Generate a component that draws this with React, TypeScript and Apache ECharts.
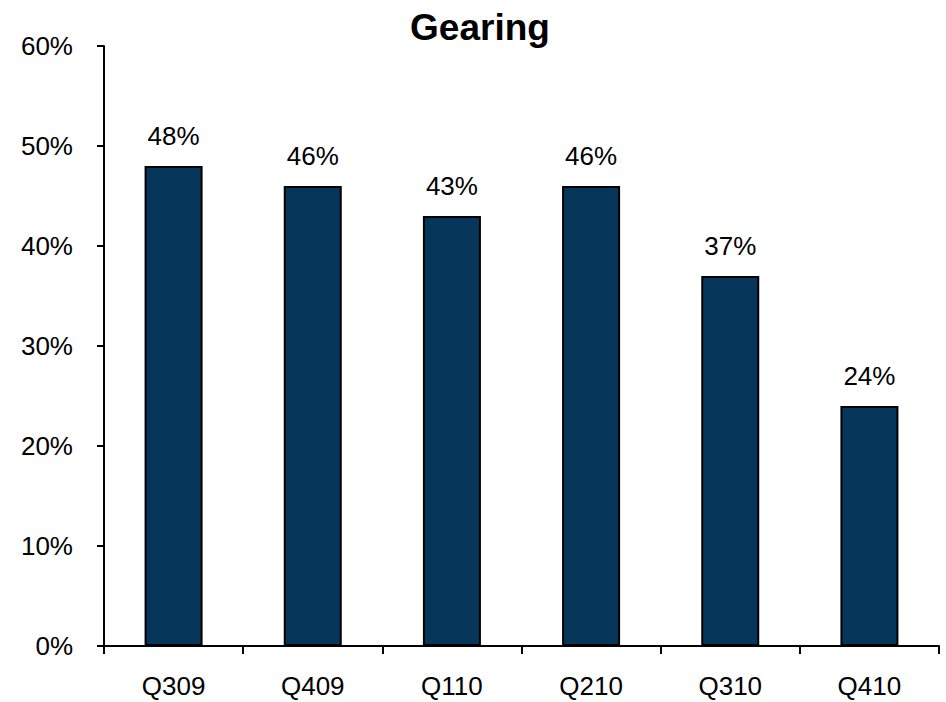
import React, { useEffect, useRef } from "react";
import * as echarts from "echarts";

const categories = ["Q309", "Q409", "Q110", "Q210", "Q310", "Q410"];
const gearing = [48, 46, 43, 46, 37, 24];
const yTicks = { min: 0, max: 60, interval: 10 };

const FONT = "'Liberation Sans', Arial, sans-serif";

export default function App() {
  const ref = useRef<HTMLDivElement>(null);
  useEffect(() => {
    if (!ref.current) return;
    const chart = echarts.init(ref.current, undefined, { renderer: "svg" });
    chart.setOption({
      animation: false,
      backgroundColor: "#ffffff",
      title: {
        text: "Gearing",
        left: 475,
        textAlign: "center",
        top: 4,
        textStyle: { fontFamily: FONT, fontSize: 37, fontWeight: "bold", color: "#000" },
      },
      grid: { left: 104, right: 7, top: 46, bottom: 56, containLabel: false },
      xAxis: {
        type: "category",
        data: categories,
        axisLine: { lineStyle: { color: "#000", width: 2 } },
        axisTick: { show: true, alignWithLabel: false, length: 8, lineStyle: { color: "#000", width: 2 } },
        axisLabel: { margin: 27, fontFamily: FONT, fontSize: 26, color: "#000" },
        splitLine: { show: false },
      },
      yAxis: {
        type: "value",
        min: yTicks.min,
        max: yTicks.max,
        interval: yTicks.interval,
        axisLine: { show: true, lineStyle: { color: "#000", width: 2 } },
        axisTick: { show: true, length: 7, lineStyle: { color: "#000", width: 2 } },
        axisLabel: { formatter: "{value}%", margin: 31, fontFamily: FONT, fontSize: 26, color: "#000" },
        splitLine: { show: false },
      },
      series: [
        {
          type: "bar",
          data: gearing,
          barWidth: 58,
          itemStyle: { color: "#063659", borderColor: "#000", borderWidth: 2 },
          label: {
            show: true,
            position: "top",
            distance: 17,
            formatter: "{c}%",
            fontFamily: FONT,
            fontSize: 26,
            color: "#000",
          },
        },
      ],
    });
    return () => chart.dispose();
  }, []);
  return <div ref={ref} style={{ width: 946, height: 702, position: "absolute", left: 0, top: 0 }} />;
}
